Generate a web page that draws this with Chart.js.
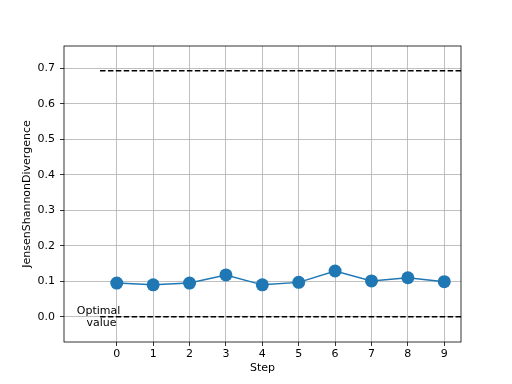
<!DOCTYPE html>
<html>
<head>
<meta charset="utf-8">
<script src="https://cdn.jsdelivr.net/npm/chart.js@4"></script>
<style>
  html, body { margin: 0; padding: 0; background: #fff; }
  #wrap { width: 512px; height: 384px; }
</style>
</head>
<body>
<div id="wrap"><canvas id="myChart" width="512" height="384"></canvas></div>
<script>
// values
const steps = [0, 1, 2, 3, 4, 5, 6, 7, 8, 9];
const divergence = [0.095, 0.090, 0.095, 0.118, 0.090, 0.097, 0.129, 0.101, 0.110, 0.099];
const yTicks = [0.0, 0.1, 0.2, 0.3, 0.4, 0.5, 0.6, 0.7];
const maxValue = 0.693;   // ln 2
const optimalValue = 0.0;
const refStart = -0.46, refEnd = 9.46;

const frame = {
	id: 'frame',
	afterDraw(chart) {
		const { ctx, chartArea: a, scales } = chart;
		ctx.save();
		ctx.strokeStyle = '#000';
		ctx.lineWidth = 0.8;
		ctx.strokeRect(a.left, a.top, a.right - a.left, a.bottom - a.top);
		// the text label next to the lower dashed line
		ctx.fillStyle = '#000';
		ctx.font = '11px "DejaVu Sans"';
		ctx.textAlign = 'center';
		ctx.textBaseline = 'middle';
		const x = scales.x.getPixelForValue(-0.5);
		const y = scales.y.getPixelForValue(optimalValue);
		ctx.fillText('Optimal', x, y - 6);
		ctx.fillText('value', x + 3, y + 6);
		ctx.restore();
	}
};

const ctx = document.getElementById('myChart').getContext('2d');

let myChart = new Chart(ctx, {
	type: 'line',
	data: {
		datasets: [{
			label: 'JS',
			data: steps.map((s, i) => ({ x: s, y: divergence[i] })),
			borderColor: '#1f77b4',
			backgroundColor: '#1f77b4',
			borderWidth: 1.5,
			pointRadius: 6.5,
			pointHoverRadius: 6.5,
			pointBorderWidth: 0
		}, {
			label: 'max',
			data: [{ x: refStart, y: maxValue }, { x: refEnd, y: maxValue }],
			borderColor: '#000',
			borderWidth: 1.5,
			borderDash: [5.5, 2.4],
			pointRadius: 0
		}, {
			label: 'optimal',
			data: [{ x: refStart, y: optimalValue }, { x: refEnd, y: optimalValue }],
			borderColor: '#000',
			borderWidth: 1.5,
			borderDash: [5.5, 2.4],
			pointRadius: 0
		}]
	},
	options: {
		responsive: false,
		animation: false,
		layout: { padding: { left: 0, top: 46, right: 51, bottom: 0 } },
		plugins: { legend: { display: false }, tooltip: { enabled: false } },
		scales: {
			x: {
				type: 'linear',
				min: -1.45,
				max: 9.46,
				afterBuildTicks: s => { s.ticks = steps.map(v => ({ value: v })); },
				afterFit: s => { s.height = 42; },
				ticks: { color: '#000', font: { family: 'DejaVu Sans', size: 11 }, padding: 2, maxRotation: 0 },
				grid: { color: '#b0b0b0', lineWidth: 0.8, tickColor: '#000', tickLength: 4 },
				border: { display: false },
				title: { display: true, text: 'Step', color: '#000', font: { family: 'DejaVu Sans', size: 11 }, padding: { top: 0, bottom: 9 } }
			},
			y: {
				min: -0.071,
				max: 0.763,
				afterBuildTicks: s => { s.ticks = yTicks.map(v => ({ value: v })); },
				afterFit: s => { s.width = 64; },
				ticks: { color: '#000', font: { family: 'DejaVu Sans', size: 11 }, padding: 5, callback: v => v.toFixed(1) },
				grid: { color: '#b0b0b0', lineWidth: 0.8, tickColor: '#000', tickLength: 4 },
				border: { display: false },
				title: { display: true, text: 'JensenShannonDivergence', color: '#000', font: { family: 'DejaVu Sans', size: 11 }, padding: { top: 21, bottom: 0 } }
			}
		}
	},
	plugins: [frame]
});
</script>
</body>
</html>
